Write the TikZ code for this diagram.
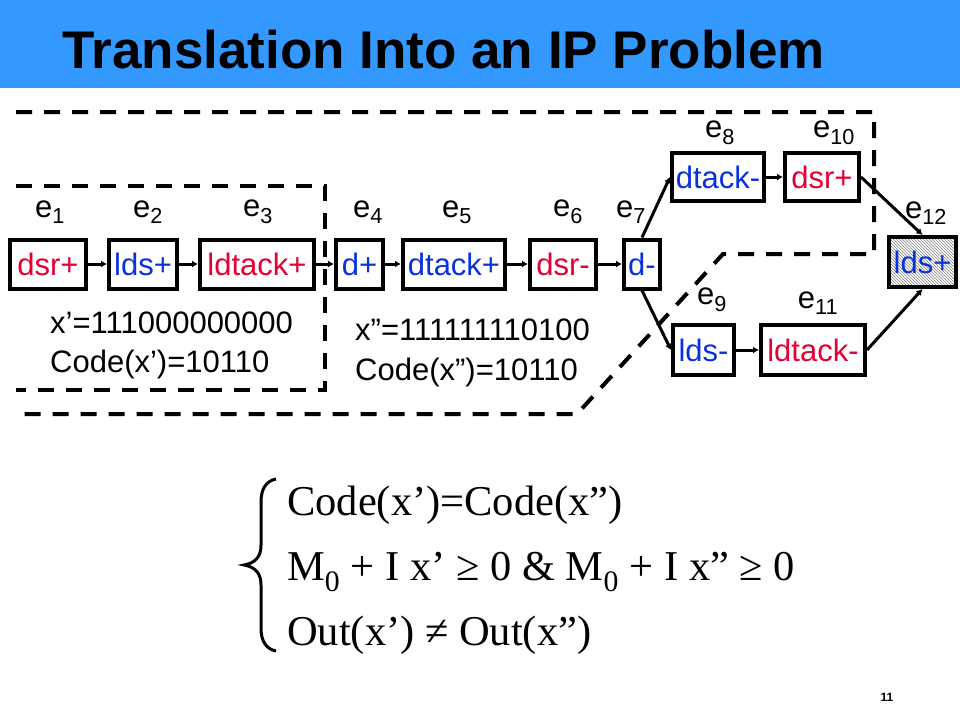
\documentclass[tikz,border=0pt]{standalone}
\usepackage{fontspec}
\setmainfont{Liberation Sans}
\newfontfamily\timesfont{Liberation Serif}
\usetikzlibrary{arrows.meta,patterns}
\definecolor{slideblue}{RGB}{51,153,255}
\definecolor{evred}{RGB}{228,0,52}
\definecolor{evblue}{RGB}{10,50,220}

\begin{document}
\begin{tikzpicture}[x=1pt,y=-1pt,
    ev/.style={draw,line width=4pt,minimum height=49pt,inner sep=0pt,font=\fontsize{31}{36}\selectfont},
    redev/.style={ev,text=evred},
    blueev/.style={ev,text=evblue},
    elab/.style={inner sep=0pt,font=\fontsize{31}{36}\selectfont},
    xlab/.style={inner sep=0pt,anchor=base west,font=\fontsize{31}{36}\selectfont},
    flab/.style={inner sep=0pt,anchor=base west,font=\timesfont\fontsize{42.5}{50}\selectfont},
    arr/.style={line width=3pt,-{Latex[length=6pt,width=7pt]}},
    dashline/.style={line width=4pt,dash pattern=on 16pt off 12pt}]
    \useasboundingbox (0,0) rectangle (960,720);

    % title bar
    \fill[slideblue] (0,0) rectangle (960,88);
    \node (title) at (62,68) [anchor=base west,inner sep=0pt,font=\fontsize{53}{60}\selectfont\bfseries] {Translation Into an IP Problem};

    % dashed regions
    \draw[dashline] (16,112)--(874,112)--(874,254)--(723,254)--(577,414)--(16,414);
    \draw[dashline] (16,186)--(325,186)--(325,390)--(16,390);

    % events
    \node (b1) at (48,264) [redev,minimum width=76pt] {dsr+};
    \node (b2) at (143,264) [blueev,minimum width=68pt] {lds+};
    \node (b3) at (257,264) [redev,minimum width=114pt] {ldtack+};
    \node (b4) at (359.5,264) [blueev,minimum width=47pt] {d+};
    \node (b5) at (454,264) [blueev,minimum width=102pt] {dtack+};
    \node (b6) at (563,264) [redev,minimum width=66pt] {dsr-};
    \node (b7) at (642,264) [blueev,minimum width=36pt] {d-};
    \node (b8) at (718,177) [blueev,minimum width=92pt,minimum height=48pt] {dtack-};
    \node (b10) at (822,177) [redev,minimum width=74pt,minimum height=48pt] {dsr+};
    \node (b9) at (703.5,350) [blueev,minimum width=61pt,minimum height=50pt] {lds-};
    \node (b11) at (813,350) [redev,minimum width=104pt,minimum height=50pt] {ldtack-};
    \node (b12) at (922.5,262) [blueev,minimum width=67pt,minimum height=50pt,pattern=north west lines,pattern color=gray] {lds+};

    \node (e1) at (50,212) [elab] {e\textsubscript{1}};
    \node (e2) at (148,212) [elab] {e\textsubscript{2}};
    \node (e3) at (258,212) [elab] {e\textsubscript{3}};
    \node (e4) at (368,212) [elab] {e\textsubscript{4}};
    \node (e5) at (457,212) [elab] {e\textsubscript{5}};
    \node (e6) at (568,212) [elab] {e\textsubscript{6}};
    \node (e7) at (631,212) [elab] {e\textsubscript{7}};
    \node (e8) at (720,133) [elab] {e\textsubscript{8}};
    \node (e10) at (834,133) [elab] {e\textsubscript{10}};
    \node (e12) at (926,213) [elab] {e\textsubscript{12}};
    \node (e9) at (712,300) [elab] {e\textsubscript{9}};
    \node (e11) at (818,303) [elab] {e\textsubscript{11}};

    \draw[arr] (b1)--(b2);
    \draw[arr] (b2)--(b3);
    \draw[arr] (b3)--(b4);
    \draw[arr] (b4)--(b5);
    \draw[arr] (b5)--(b6);
    \draw[arr] (b6)--(b7);
    \draw[arr] (b7.north)--(b8.west);
    \draw[arr] (b7.south)--(b9.west);
    \draw[arr] (b8)--(b10);
    \draw[arr] (b9)--(b11);
    \draw[arr] (b10.east)--(b12.north);
    \draw[arr] (b11.east)--(b12.south);

    % vectors
    \node (x1) at (50,333) [xlab] {x’=111000000000};
    \node (c1) at (50,372) [xlab] {Code(x’)=10110};
    \node (x2) at (355,340) [xlab] {x”=111111110100};
    \node (c2) at (355,380) [xlab] {Code(x”)=10110};

    % system
    \draw[line width=3pt] (276,479) .. controls (266,481) and (261,489) .. (261,502) -- (261,545)
        .. controls (261,556) and (256,563) .. (244,565) .. controls (256,567) and (261,574) .. (261,585)
        -- (261,628) .. controls (261,641) and (266,649) .. (276,651);
    \node (f1) at (287,515) [flab] {Code(x’)=Code(x”)};
    \node (f2) at (287,580) [flab] {M\textsubscript{0} + I x’ ≥ 0 \& M\textsubscript{0} + I x” ≥ 0};
    \node (f3) at (287,645) [flab] {Out(x’) ≠ Out(x”)};

    \node (pg) at (887,697) [inner sep=0pt,font=\fontsize{12}{14}\selectfont\bfseries] {11};
\end{tikzpicture}
\end{document}
